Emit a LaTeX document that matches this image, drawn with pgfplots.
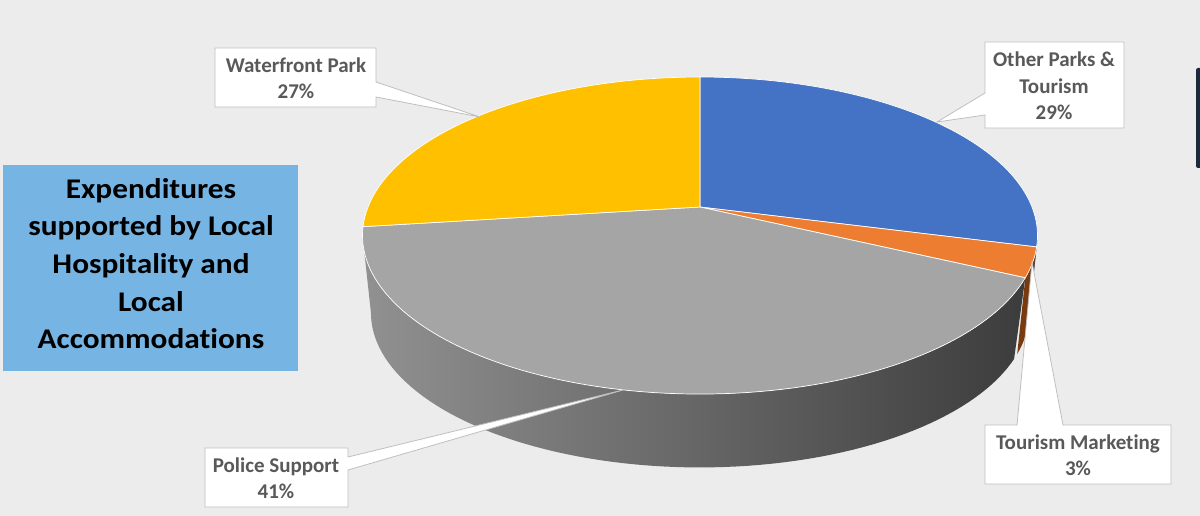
\documentclass[border=0pt]{standalone}
\usepackage{pgfplots}
\pgfplotsset{compat=1.18}
\usepackage{pgfplotstable}
\usepackage{fontspec}
\setmainfont{Carlito}[Ligatures=NoCommon]

\definecolor{bgcol}{HTML}{ECECEC}
\definecolor{titlebox}{HTML}{75B4E3}
\definecolor{cblue}{HTML}{4472C4}
\definecolor{corange}{HTML}{ED7D31}
\definecolor{cgray}{HTML}{A5A5A5}
\definecolor{cyellow}{HTML}{FFC000}
\definecolor{labeltext}{HTML}{595959}
\definecolor{calloutedge}{HTML}{BFBFBF}

% shares in percent, clockwise from 12 o'clock
\pgfplotstableread{
slice value
1 29
2 3
3 41
4 27
}\piedata

% top face slice between two angles
\newcommand\slice[3]{%
  \addplot[fill=#3, draw=white, line width=0.7pt, domain=#1:#2, samples=90, variable=\t]
    ({px(\t)}, {py(\t)}) -- (700,207) -- cycle;}
% side wall: top rim forward, bottom rim back
\newcommand\sidewall[3]{%
  \addplot[draw=none, #3, domain=0:2, samples=161, variable=\s]
    ({ifthenelse(\s<=1, px((#1)+\s*((#2)-(#1))), qx((#2)-(\s-1)*((#2)-(#1))))},
     {ifthenelse(\s<=1, py((#1)+\s*((#2)-(#1))), qy((#2)-(\s-1)*((#2)-(#1))))}) -- cycle;}

\begin{document}
\begin{tikzpicture}
\pgfplotstablegetelem{0}{value}\of\piedata \pgfmathsetmacro\vA{\pgfplotsretval}
\pgfplotstablegetelem{1}{value}\of\piedata \pgfmathsetmacro\vB{\pgfplotsretval}
\pgfplotstablegetelem{2}{value}\of\piedata \pgfmathsetmacro\vC{\pgfplotsretval}
\pgfplotstablegetelem{3}{value}\of\piedata \pgfmathsetmacro\vD{\pgfplotsretval}
\pgfmathsetmacro\aO{90}
\pgfmathsetmacro\aA{\aO-3.6*\vA}
\pgfmathsetmacro\aB{\aA-3.6*\vB}
\pgfmathsetmacro\aC{\aB-3.6*\vC}
\pgfmathsetmacro\aD{\aC-3.6*\vD}
% silhouette of the rim (perspective)
\pgfmathsetmacro\sR{asin(-0.18)}
\pgfmathsetmacro\sL{-180-\sR}
\pgfmathsetmacro\gS{max(\aC,\sL)}
\begin{axis}[
  width=1200pt, height=516pt, scale only axis,
  xmin=0, xmax=1200, ymin=0, ymax=516, y dir=reverse,
  hide axis, clip=false,
  declare function={
    px(\t)=700+332*cos(\t)/(1+0.18*sin(\t));
    py(\t)=207-153.4*sin(\t)/(1+0.18*sin(\t));
    qx(\t)=700+323.7*cos(\t)/(1+0.18*sin(\t));
    qy(\t)=285-149.6*sin(\t)/(1+0.18*sin(\t));
  },
]
\coordinate (BL) at (0,516);
\coordinate (TR) at (1200,0);
\fill[bgcol] (0,0) rectangle (1200,516);
\fill[titlebox] (3,165) rectangle (298,371);
\node[inner sep=0, text=black] at (151,266) {\scalebox{1.1}[1]{%
  \fontsize{28.5}{37.7}\selectfont\bfseries
  \begin{tabular}{@{}c@{}}Expenditures\\supported by Local\\Hospitality and\\Local\\Accommodations\end{tabular}}};
\fill[fill={rgb,255:red,28;green,43;blue,60}, rounded corners=2pt] (1196,68) rectangle (1204,168);

% side walls
\sidewall{\gS}{\aB}{left color={rgb,255:red,145;green,145;blue,145}, right color={rgb,255:red,60;green,60;blue,60}}
\sidewall{\aB}{\aA}{fill={rgb,255:red,120;green,58;blue,14}}
\sidewall{\aA}{\sR}{fill={rgb,255:red,40;green,70;blue,125}}

% top face
\slice{\aA}{\aO}{cblue}
\slice{\aB}{\aA}{corange}
\slice{\aC}{\aB}{cgray}
\slice{\aD}{\aC}{cyellow}

% callouts
\begin{scope}[fill=white, draw=calloutedge, line width=0.8pt]
\filldraw (215,48) -- (376,48) -- (376,82) -- (480,117) -- (376,97) -- (376,107) -- (215,107) -- cycle;
\filldraw (985,42) -- (1124,42) -- (1124,128) -- (985,128) -- (985,115) -- (937,122) -- (985,93) -- cycle;
\filldraw (985,425) -- (1017,425) -- (1032,262) -- (1063,425) -- (1171,425) -- (1171,484) -- (985,484) -- cycle;
\filldraw (205,448) -- (348,448) -- (348,457) -- (623,390) -- (348,470) -- (348,507) -- (205,507) -- cycle;
\end{scope}
\begin{scope}[every node/.style={inner sep=0, align=center, text=labeltext,
    font=\fontsize{21}{26.5}\selectfont\bfseries}]
\node at (296,78) {Waterfront Park\\27\%};
\node at (1054,86) {Other Parks \&\\Tourism\\29\%};
\node at (1078,455) {Tourism Marketing\\3\%};
\node at (276,478) {Police Support\\41\%};
\end{scope}
\end{axis}
\pgfresetboundingbox
\path[use as bounding box] (BL) rectangle (TR);
\end{tikzpicture}
\end{document}
